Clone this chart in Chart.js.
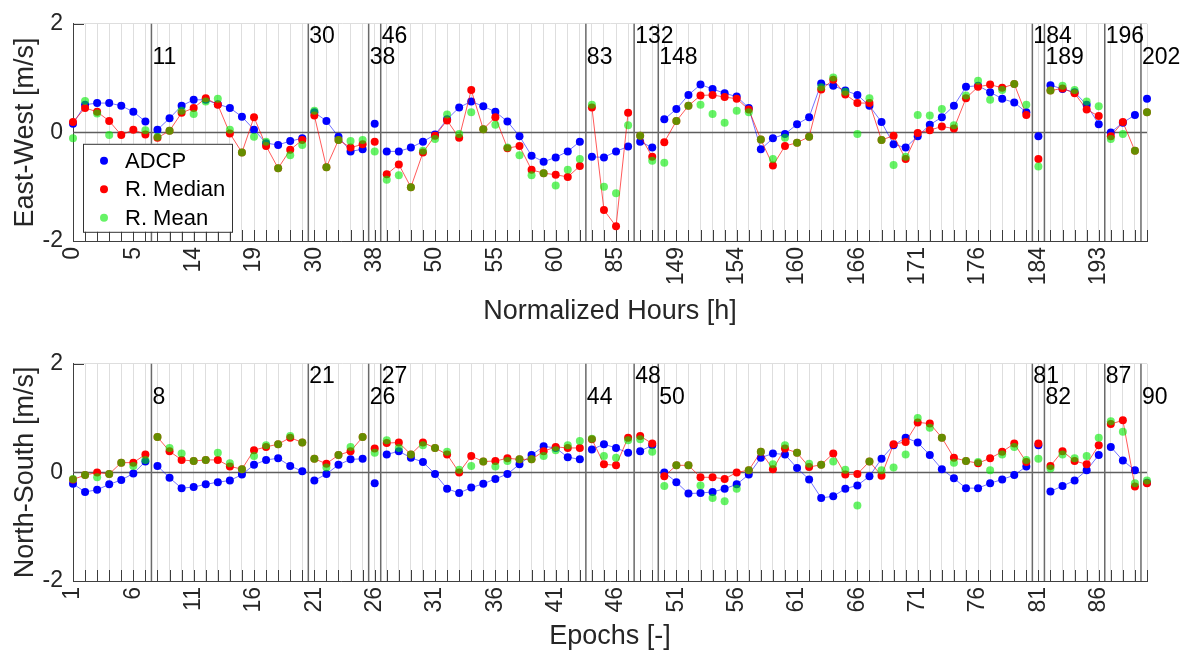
<!DOCTYPE html>
<html>
<head>
<meta charset="utf-8">
<script src="https://cdn.jsdelivr.net/npm/chart.js@4.4.1/dist/chart.umd.min.js"></script>
<style>
    html, body { margin: 0; padding: 0; background: #fff; }
    #ewChart { position: absolute; left: 0; top: 0; }
    #nsChart { position: absolute; left: 0; top: 340px; }
</style>
</head>
<body>
<canvas id="ewChart" width="1187" height="330"></canvas>
<canvas id="nsChart" width="1187" height="310"></canvas>
<script>
// Epoch index (x axis of both panels)
const epochs = Array.from({ length: 90 }, (_, i) => i + 1);

// Epochs that get a tick label, and the labels shown there
const tickEpochs = [1, 6, 11, 16, 21, 26, 31, 36, 41, 46, 51, 56, 61, 66, 71, 76, 81, 86];
const hourTicks = [0, 5, 14, 19, 30, 38, 50, 55, 60, 85, 149, 154, 160, 166, 171, 176, 184, 193];

// First epoch of every new segment (a break line sits just before it) and its hour
const segStarts = [8, 21, 26, 27, 44, 48, 50, 81, 82, 87, 90];
const segHours = [11, 30, 38, 46, 83, 132, 148, 184, 189, 196, 202];

const yTicks = [-2, 0, 2];

// East-West velocity [m/s]
const ewADCP = [
    0.16, 0.51, 0.54, 0.54, 0.49, 0.38, 0.20,
    0.05, 0.26, 0.49, 0.60, 0.60, 0.52, 0.45, 0.29, 0.05, -0.20, -0.23, -0.16, -0.11,
    0.37, 0.21, -0.08, -0.35, -0.31,
    0.16,
    -0.35, -0.35, -0.28, -0.17, -0.04, 0.24, 0.46, 0.57, 0.48, 0.38, 0.20, -0.07, -0.43, -0.54, -0.46, -0.35, -0.17,
    -0.45, -0.46, -0.35, -0.26,
    -0.17, -0.28,
    0.24, 0.43, 0.69, 0.88, 0.80, 0.72, 0.66, 0.45, -0.31, -0.11, -0.03, 0.15, 0.28, 0.90, 0.86, 0.77,
    0.69, 0.49, 0.19, -0.22, -0.28, -0.07, 0.14, 0.28, 0.49, 0.84, 0.86, 0.74, 0.62, 0.55, 0.37,
    -0.07,
    0.87, 0.80, 0.74, 0.51, 0.15,
    0.00, 0.18, 0.32,
    0.62
];
const ewMedian = [
    0.19, 0.45, 0.38, 0.21, -0.05, 0.05, -0.04,
    -0.10, 0.03, 0.36, 0.45, 0.63, 0.51, -0.02, -0.37, 0.28, -0.25, -0.66, -0.32, -0.14,
    0.31, -0.64, -0.14, -0.28, -0.22,
    -0.17,
    -0.77, -0.59, -1.01, -0.37, -0.06, 0.22, -0.10, 0.78, 0.06, 0.28, -0.29, -0.25, -0.69, -0.75, -0.78, -0.82, -0.62,
    0.46, -1.43, -1.73, 0.36,
    -0.06, -0.45,
    -0.18, 0.21, 0.49, 0.68, 0.69, 0.65, 0.62, 0.42, -0.13, -0.61, -0.25, -0.19, -0.08, 0.79, 0.97, 0.70,
    0.54, 0.54, -0.14, -0.06, -0.49, -0.01, 0.04, 0.11, 0.07, 0.63, 0.84, 0.88, 0.82, 0.89, 0.32,
    -0.49,
    0.77, 0.81, 0.72, 0.42, 0.30,
    -0.07, 0.19, -0.34,
    0.37
];
const ewMean = [
    -0.11, 0.58, 0.35, -0.05, null, null, 0.04,
    -0.08, 0.03, 0.40, 0.34, 0.57, 0.62, 0.05, -0.37, -0.08, -0.17, -0.66, -0.42, -0.23,
    0.40, -0.64, -0.14, -0.16, -0.14,
    -0.35,
    -0.87, -0.79, -1.01, -0.34, -0.12, 0.33, -0.03, 0.37, 0.06, 0.14, -0.28, -0.42, -0.79, -0.75, -0.98, -0.69, -0.49,
    0.51, -1.00, -1.12, 0.13,
    -0.06, -0.52,
    -0.56, 0.21, 0.49, 0.51, 0.34, 0.18, 0.40, 0.37, -0.13, -0.49, -0.10, -0.19, -0.08, 0.83, 1.01, 0.75,
    -0.03, 0.63, -0.14, -0.60, -0.45, 0.32, 0.31, 0.43, 0.13, 0.68, 0.95, 0.60, 0.78, 0.89, 0.51,
    -0.63,
    0.77, 0.86, 0.78, 0.57, 0.48,
    -0.12, -0.03, -0.34,
    0.37
];

// North-South velocity [m/s]
const nsADCP = [
    -0.21, -0.36, -0.32, -0.22, -0.14, -0.02, 0.20,
    0.12, -0.10, -0.29, -0.27, -0.22, -0.18, -0.15, -0.04, 0.14, 0.23, 0.26, 0.12, 0.02,
    -0.15, -0.03, 0.14, 0.24, 0.25,
    -0.20,
    0.33, 0.39, 0.27, 0.19, -0.03, -0.30, -0.38, -0.28, -0.21, -0.12, -0.03, 0.15, 0.32, 0.48, 0.45, 0.28, 0.24,
    0.42, 0.52, 0.45, 0.36,
    0.39, 0.50,
    0.00, -0.18, -0.39, -0.38, -0.36, -0.30, -0.22, -0.04, 0.27, 0.35, 0.33, 0.08, -0.13, -0.47, -0.44, -0.30,
    -0.24, -0.07, 0.25, 0.50, 0.64, 0.55, 0.32, 0.06, -0.11, -0.29, -0.29, -0.20, -0.13, -0.05, 0.11,
    0.50,
    -0.35, -0.25, -0.15, 0.04, 0.32,
    0.47, 0.22, 0.04,
    -0.19
];
const nsMedian = [
    -0.13, -0.05, 0.00, -0.03, 0.18, 0.18, 0.33,
    0.65, 0.39, 0.23, 0.21, 0.23, 0.23, 0.11, 0.06, 0.41, 0.47, 0.52, 0.64, 0.55,
    0.25, 0.16, 0.32, 0.39, 0.65,
    0.44,
    0.54, 0.55, 0.33, 0.55, 0.45, 0.33, 0.00, 0.30, 0.20, 0.21, 0.26, 0.24, 0.24, 0.39, 0.47, 0.45, 0.45,
    0.61, 0.15, 0.13, 0.64,
    0.67, 0.53,
    -0.07, 0.13, 0.13, -0.09, -0.09, -0.12, 0.00, 0.04, 0.38, 0.06, 0.44, 0.36, 0.10, 0.14, 0.35, -0.04,
    -0.03, 0.20, -0.06, 0.52, 0.56, 0.92, 0.90, 0.64, 0.27, 0.21, 0.17, 0.26, 0.38, 0.53, 0.19,
    0.53,
    0.12, 0.39, 0.21, 0.15, 0.50,
    0.89, 0.96, -0.26,
    -0.20
];
const nsMean = [
    -0.12, -0.05, -0.09, -0.03, 0.18, 0.12, 0.23,
    0.65, 0.45, 0.35, 0.21, 0.23, 0.36, 0.17, 0.06, 0.30, 0.50, 0.52, 0.67, 0.55,
    0.25, 0.09, 0.32, 0.47, 0.65,
    0.36,
    0.59, 0.45, 0.33, 0.50, 0.45, 0.38, 0.05, 0.12, 0.20, 0.11, 0.21, 0.24, 0.24, 0.30, 0.41, 0.50, 0.58,
    0.62, 0.30, 0.27, 0.59,
    0.61, 0.38,
    -0.25, 0.13, 0.13, -0.24, -0.47, -0.53, -0.30, 0.04, 0.38, 0.15, 0.50, 0.36, 0.16, 0.14, 0.20, 0.05,
    -0.61, 0.20, 0.04, 0.09, 0.33, 1.00, 0.82, 0.64, 0.18, 0.21, 0.19, 0.04, 0.33, 0.47, 0.23,
    0.25,
    0.07, 0.33, 0.26, 0.30, 0.64,
    0.94, 0.75, -0.20,
    -0.15
];

const FONT = '"Liberation Sans", Arial, Helvetica, sans-serif';
const TEXT = '#262626';
const BLUE = '#0000ff';
const RED = '#ff0000';
const GREEN = 'rgba(0, 235, 0, 0.6)';

// turn a value list into {x,y} points, with a null before each segment start so lines break
function toPoints(vals) {
    const pts = [];
    vals.forEach((v, i) => {
        const e = epochs[i];
        if (segStarts.includes(e)) pts.push({ x: e - 0.5, y: null });
        pts.push({ x: e, y: v });
    });
    return pts;
}

function series(label, vals, color, lineColor, order) {
    return {
        label: label,
        data: toPoints(vals),
        order: order,
        showLine: !!lineColor,
        borderColor: lineColor || color,
        borderWidth: 1,
        pointRadius: 4,
        pointHoverRadius: 4,
        pointBackgroundColor: color,
        pointBorderWidth: 0,
        spanGaps: false,
        clip: false
    };
}

// break lines, zero line, inward ticks, segment labels and the legend box
const segPlugin = {
    id: 'segs',
    beforeDatasetsDraw(chart, args, opts) {
        const { ctx, chartArea: a, scales: { x, y } } = chart;
        ctx.save();
        ctx.strokeStyle = '#3c3c3c';
        ctx.lineWidth = 1;
        ctx.beginPath();
        epochs.forEach(e => {
            const px = Math.round(x.getPixelForValue(e)) + 0.5;
            ctx.moveTo(px, a.bottom);
            ctx.lineTo(px, a.bottom - 11);
        });
        const py = Math.round(y.getPixelForValue(2)) + 0.5;
        ctx.moveTo(a.left, py);
        ctx.lineTo(a.left + 11, py);
        ctx.stroke();

        ctx.strokeStyle = '#5e5e5e';
        ctx.lineWidth = 1.5;
        ctx.beginPath();
        const zy = y.getPixelForValue(0);
        ctx.moveTo(a.left, zy);
        ctx.lineTo(a.right, zy);
        ctx.stroke();

        ctx.strokeStyle = '#6a6a6a';
        ctx.beginPath();
        segStarts.forEach(s => {
            const px = x.getPixelForValue(s - 0.5);
            ctx.moveTo(px, a.top);
            ctx.lineTo(px, a.bottom);
        });
        ctx.stroke();
        ctx.restore();
    },
    afterDatasetsDraw(chart, args, opts) {
        const { ctx, chartArea: a, scales: { x, y } } = chart;
        ctx.save();
        ctx.fillStyle = '#000';
        ctx.font = '23px ' + FONT;
        ctx.textAlign = 'left';
        ctx.textBaseline = 'middle';
        segStarts.forEach((s, i) => {
            const px = x.getPixelForValue(s - 0.5) + 1;
            const py = y.getPixelForValue(i % 2 === 0 ? 1.37 : 1.76);
            ctx.fillText(String(opts.labels[i]), px, py);
        });

        if (opts.legend) {
            const bx = a.left + 10, by = a.top + 120, bw = 149, bh = 88;
            ctx.fillStyle = '#fff';
            ctx.fillRect(bx, by, bw, bh);
            ctx.strokeStyle = '#333';
            ctx.lineWidth = 1;
            ctx.strokeRect(bx + 0.5, by + 0.5, bw, bh);
            const items = [['ADCP', BLUE], ['R. Median', RED], ['R. Mean', GREEN]];
            ctx.font = '22px ' + FONT;
            items.forEach((it, i) => {
                const cy = by + 17 + i * 28.5;
                ctx.fillStyle = it[1];
                ctx.beginPath();
                ctx.arc(bx + 21, cy, 4, 0, Math.PI * 2);
                ctx.fill();
                ctx.fillStyle = '#000';
                ctx.fillText(it[0], bx + 42, cy + 1);
            });
        }
        ctx.restore();
    }
};

function makeChart(id, adcp, median, mean, tickText, xTitle, yTitle, xHeight, titlePad, legend) {
    return new Chart(document.getElementById(id), {
        type: 'line',
        data: {
            datasets: [
                series('ADCP', adcp, BLUE, 'rgba(0, 0, 255, 0.55)', 2),
                series('R. Median', median, RED, 'rgba(255, 0, 0, 0.65)', 1),
                series('R. Mean', mean, GREEN, null, 0)
            ]
        },
        options: {
            responsive: false,
            animation: false,
            devicePixelRatio: 1,
            layout: { padding: { left: 0, right: 40, top: 20, bottom: 0 } },
            plugins: {
                legend: { display: false },
                tooltip: { enabled: false },
                segs: { labels: legend ? segHours : segStarts, legend: legend }
            },
            scales: {
                x: {
                    type: 'linear',
                    min: 1,
                    max: 90,
                    afterBuildTicks: s => { s.ticks = epochs.map(v => ({ value: v })); },
                    afterFit: s => { s.height = xHeight; },
                    ticks: {
                        autoSkip: false,
                        maxRotation: 90,
                        minRotation: 90,
                        padding: 6,
                        color: TEXT,
                        font: { family: FONT, size: 23 },
                        callback: v => {
                            const i = tickEpochs.indexOf(v);
                            return i >= 0 ? String(tickText[i]) : '';
                        }
                    },
                    grid: { color: '#dedede', lineWidth: 1, drawTicks: false },
                    border: { color: '#404040', width: 1 },
                    title: {
                        display: true,
                        text: xTitle,
                        color: TEXT,
                        font: { family: FONT, size: 27, lineHeight: 1 },
                        padding: { top: 0, bottom: titlePad }
                    }
                },
                y: {
                    min: -2,
                    max: 2,
                    afterBuildTicks: s => { s.ticks = yTicks.map(v => ({ value: v })); },
                    afterFit: s => { s.width = 73; },
                    ticks: {
                        padding: 10,
                        color: TEXT,
                        font: { family: FONT, size: 23 }
                    },
                    grid: { color: '#dedede', lineWidth: 1, drawTicks: false },
                    border: { color: '#404040', width: 1 },
                    title: {
                        display: true,
                        text: yTitle,
                        color: TEXT,
                        font: { family: FONT, size: 27, lineHeight: 1 },
                        padding: { top: 12.5, bottom: 0 }
                    }
                }
            }
        },
        plugins: [segPlugin]
    });
}

makeChart('ewChart', ewADCP, ewMedian, ewMean, hourTicks, 'Normalized Hours [h]', 'East-West [m/s]', 89, 4.5, true);
makeChart('nsChart', nsADCP, nsMedian, nsMean, tickEpochs, 'Epochs [-]', 'North-South [m/s]', 69, 0, false);
</script>
</body>
</html>
